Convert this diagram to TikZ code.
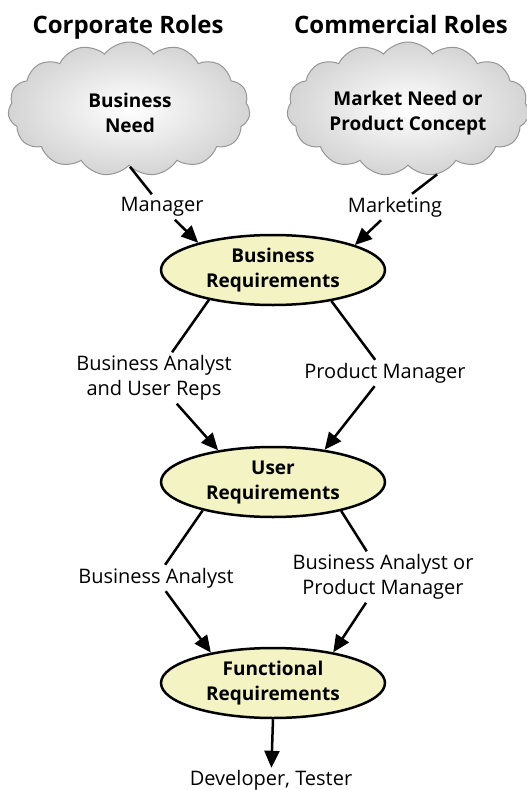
\documentclass[tikz,border=0pt]{standalone}
\usepackage{fontspec}
\setmainfont{Open Sans}
\usetikzlibrary{shapes.geometric,shapes.symbols,arrows.meta}

\definecolor{reqfill}{RGB}{243,243,196}
\definecolor{cloudline}{RGB}{150,150,150}
\definecolor{cloudgray}{RGB}{212,212,212}

\tikzset{
	role/.style={anchor=base, font=\fontsize{24}{28}\selectfont\bfseries},
	need/.style={cloud, cloud puffs=15, cloud puff arc=105, aspect=2.1, draw=cloudline, line width=1pt,
		inner color=white, outer color=cloudgray, minimum width=242pt, minimum height=134pt, inner sep=0pt},
	needtext/.style={align=center, inner sep=0pt, font=\fontsize{19}{25}\selectfont\bfseries},
	req/.style={ellipse, draw, line width=2.5pt, fill=reqfill, minimum width=224pt, minimum height=70pt,
		inner sep=0pt, align=center, font=\fontsize{19}{25}\selectfont\bfseries},
	who/.style={align=center, inner sep=3pt, font=\fontsize{20}{25}\selectfont},
	flow/.style={line width=2.5pt},
	flowarrow/.style={line width=2.5pt, -{Triangle[length=17pt,width=15pt]}}
}

\begin{document}
\begin{tikzpicture}[x=1pt,y=1pt]
	  \useasboundingbox (0,0) rectangle (527,-790);

	  \draw (128,-33)node[role](corp){Corporate Roles};
	  \draw (401,-33)node[role](comm){Commercial Roles};

	  \draw (129,-109)node[need](busneed){};
	  \draw (130,-113)node[needtext](busneedtxt){Business\\Need};
	  \draw (408,-109)node[need](mktneed){};
	  \draw (408,-113)node[needtext](mktneedtxt){Market Need or\\Product Concept};

	  \draw (162,-207)node[who](mgr){Manager};
	  \draw (395,-207)node[who](mkt){Marketing};

	  \draw (273,-270)node[req](busreq){Business\\Requirements};

	  \draw (154,-378)node[who](bausr){Business Analyst\\and User Reps};
	  \draw (385,-373)node[who](pm){Product Manager};

	  \draw (273,-482)node[req](usrreq){User\\Requirements};

	  \draw (156,-578)node[who](ba){Business Analyst};
	  \draw (383,-577)node[who](bapm){Business Analyst or\\Product Manager};

	  \draw (273,-683)node[req](funreq){Functional\\Requirements};

	  \draw (271,-780)node[who,inner sep=2pt](devtest){Developer, Tester};

	  \draw[flow] (busneed.-89)--(mgr);
	  \draw[flowarrow] (mgr)--(busreq.160);
	  \draw[flow] (mktneed.-66)--(mkt);
	  \draw[flowarrow] (mkt)--(busreq.17);

	  \draw[flow] (busreq.205)--(bausr);
	  \draw[flowarrow] (bausr)--(usrreq.150);
	  \draw[flow] (busreq.332)--(pm);
	  \draw[flowarrow] (pm)--(usrreq.32);

	  \draw[flow] (usrreq.202)--(ba);
	  \draw[flowarrow] (ba)--(funreq.154);
	  \draw[flow] (usrreq.337)--(bapm);
	  \draw[flowarrow] (bapm)--(funreq.27);

	  \draw[flowarrow] (funreq.south)--(devtest);
\end{tikzpicture}
\end{document}
